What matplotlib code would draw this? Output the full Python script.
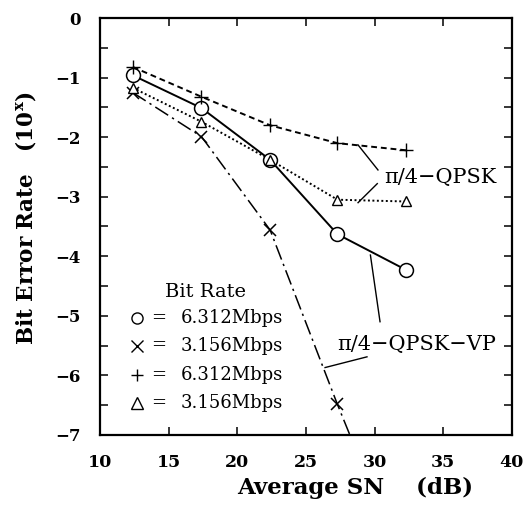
import matplotlib
matplotlib.use("Agg")
import matplotlib.pyplot as plt
from matplotlib.ticker import MultipleLocator

plt.rcParams['font.family'] = ['DejaVu Serif']
plt.rcParams['mathtext.fontset'] = 'dejavuserif'

# average SN (dB) of the measured points
sn = [12.4, 17.4, 22.4, 27.3, 32.3]

# log10 bit error rate
ber_vp_6312 = [-0.96, -1.51, -2.38, -3.63, -4.23]      # circles, pi/4-QPSK-VP
ber_vp_3156 = [-1.25, -1.99, -3.56, -6.49]             # crosses, pi/4-QPSK-VP
ber_qpsk_6312 = [-0.82, -1.32, -1.80, -2.10, -2.22]    # plus, pi/4-QPSK
ber_qpsk_3156 = [-1.17, -1.74, -2.38, -3.05, -3.08]    # triangles, pi/4-QPSK

# the dash-dot curve runs on out of the frame
vp_3156_tail = (28.2, -7.0)

legend_rows = ["6.312Mbps", "3.156Mbps", "6.312Mbps", "3.156Mbps"]
legend_marks = ["o", "x", "+", "^"]

fig = plt.figure(figsize=(5.31, 5.05), dpi=100)
ax = fig.add_axes([0.188, 0.139, 0.776, 0.825])

lw = 1.4
ax.plot(sn[:4] + [vp_3156_tail[0]], ber_vp_3156 + [vp_3156_tail[1]], color='black', lw=1.1,
        linestyle=(0, (10, 3, 1.5, 3)), zorder=2)
ax.plot(sn[:4], ber_vp_3156, 'x', color='black', ms=9, mew=1.1, zorder=4)
ax.plot(sn, ber_qpsk_6312, color='black', lw=lw, linestyle=(0, (3, 2)), zorder=2)
ax.plot(sn, ber_qpsk_6312, '+', color='black', ms=10, mew=1.0, zorder=4)
ax.plot(sn, ber_qpsk_3156, color='black', lw=lw, linestyle=(0, (1, 1.3)), zorder=2)
ax.plot(sn, ber_qpsk_3156, '^', color='black', mfc='white', ms=7, mew=1.0, zorder=4)
ax.plot(sn, ber_vp_6312, '-o', color='black', mfc='white', ms=10, mew=1.1, lw=lw, zorder=3)

ax.set_xlim(10, 40)
ax.set_ylim(-7, 0)
ax.yaxis.set_minor_locator(MultipleLocator(0.5))
ax.tick_params(which='both', direction='in', top=True, right=True, length=6, width=1.1)
ax.tick_params(axis='x', pad=14)
ax.tick_params(axis='y', pad=14)
ax.set_xticks(range(10, 41, 5))
ax.set_xticklabels([str(v) for v in range(10, 41, 5)], fontweight='bold', fontsize=12.5)
ax.set_yticks(range(-7, 1))
ax.set_yticklabels(["\u22127", "\u22126", "\u22125", "\u22124", "\u22123", "\u22122", "\u22121", "0"],
                   fontweight='bold', fontsize=12)
for s in ax.spines.values():
    s.set_linewidth(1.6)

ax.set_xlabel("Average SN    (dB)", fontsize=16.5, fontweight='bold')
ax.xaxis.set_label_coords(0.62, -0.1)
ax.set_ylabel(r"Bit Error Rate   (10$^{\mathbf{x}}$)", fontsize=15.5, fontweight='bold')
ax.yaxis.set_label_coords(-0.15, 0.52)

# curve labels with leader lines
ax.text(30.7, -2.68, "\u03c0/4\u2212QPSK", fontsize=15, ha='left', va='center')
ax.plot([30.25, 28.8], [-2.55, -2.13], color='black', lw=1.0)
ax.plot([30.2, 28.8], [-2.78, -3.10], color='black', lw=1.0)
ax.text(27.3, -5.49, "\u03c0/4\u2212QPSK\u2212VP", fontsize=15, ha='left', va='center')
ax.plot([30.4, 29.7], [-5.10, -3.98], color='black', lw=1.0)
ax.plot([29.45, 26.4], [-5.69, -5.87], color='black', lw=1.0)

# legend block
ax.text(17.7, -4.6, "Bit Rate", fontsize=14, ha='center', va='center')
row_y = [-5.03, -5.5, -5.99, -6.46]
for y, m, txt in zip(row_y, legend_marks, legend_rows):
    ax.plot([12.7], [y], m, color='black', mfc='white', ms=8, mew=1.0)
    ax.text(14.3, y, "=", fontsize=13, ha='center', va='center')
    ax.text(15.9, y, txt, fontsize=13, ha='left', va='center')

fig.savefig("out.png", dpi=100)
